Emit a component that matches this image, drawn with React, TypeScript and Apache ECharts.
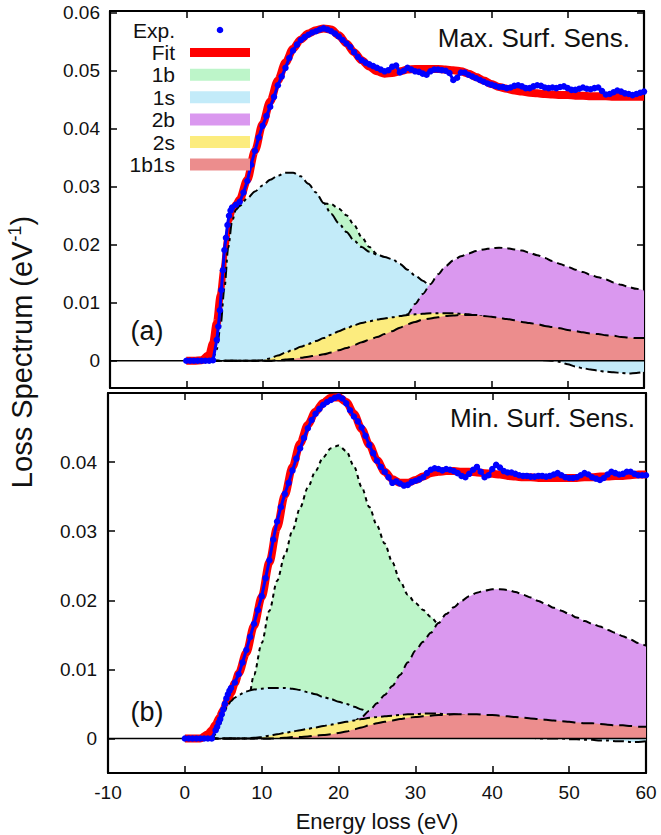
import { useEffect, useRef } from "react";
import * as echarts from "echarts";

const FONT = '"Liberation Sans", Arial, Helvetica, sans-serif';

// Energy-loss sample positions (eV) for the fitted curves and components
const COMP_X: number[] = [
  0, 1, 2, 3, 3.5, 4, 4.5, 5, 5.5, 6, 6.5,
  ...Array.from({ length: 54 }, (_, i) => 7 + i),
];
// Energy-loss sample positions (eV) for the measured spectra
const EXP_X: number[] = [
  ...Array.from({ length: 8 }, (_, i) => i * 0.5),
  ...Array.from({ length: 11 }, (_, i) => Math.round((4 + i * 0.2) * 10) / 10),
  ...Array.from({ length: 108 }, (_, i) => 6.5 + i * 0.5),
];

// ---------- (a) maximum surface sensitivity ----------
const EXP_A = [
  0, 0, 0, 0, 0, 0, 0, 0.0001,
  0.0036, 0.0059, 0.0087, 0.0122, 0.0156, 0.0191, 0.0212, 0.0234, 0.025, 0.0259, 0.0264,
  0.0269, 0.0274, 0.029, 0.031, 0.0338, 0.0362, 0.0385, 0.0405, 0.0422, 0.0438,
  0.0455, 0.0475, 0.049, 0.0505, 0.0522, 0.0535, 0.0545, 0.0553, 0.0558, 0.0562,
  0.0566, 0.0568, 0.0571, 0.0573, 0.0571, 0.0568, 0.0564, 0.0559, 0.0553, 0.0547,
  0.0541, 0.0532, 0.0524, 0.0518, 0.0514, 0.0511, 0.0508, 0.0505, 0.0502, 0.0499,
  0.0501, 0.0507, 0.0509, 0.0497, 0.05, 0.0505, 0.0502, 0.0499, 0.0498, 0.0495,
  0.0493, 0.0499, 0.0502, 0.0502, 0.0501, 0.05, 0.0496, 0.0484, 0.0488, 0.0497,
  0.0497, 0.0493, 0.049, 0.0487, 0.0484, 0.0481, 0.0478, 0.0476, 0.0474, 0.0472,
  0.0472, 0.047, 0.0471, 0.0474, 0.0475, 0.0473, 0.047, 0.047, 0.0473, 0.0475,
  0.0474, 0.0471, 0.047, 0.0471, 0.047, 0.0472, 0.0473, 0.047, 0.0467, 0.0467,
  0.0469, 0.0471, 0.0469, 0.0468, 0.047, 0.0471, 0.0465, 0.0459, 0.046, 0.0463,
  0.0466, 0.0464, 0.0461, 0.046, 0.0458, 0.046, 0.0462, 0.0464,
];
const FIT_A = [
  0, 0, 0.0001, 0.001, 0.003, 0.0065, 0.0112, 0.0158, 0.021, 0.025, 0.0268,
  0.0278, 0.0312, 0.0362, 0.0408, 0.0447, 0.0483, 0.0514, 0.0538, 0.0554, 0.0564,
  0.057, 0.0573, 0.0571, 0.0561, 0.0547, 0.0532, 0.0518, 0.0507, 0.0499, 0.0495,
  0.0496, 0.0499, 0.0502, 0.0503, 0.0503, 0.0503, 0.0503, 0.0502, 0.0501, 0.0499,
  0.0495, 0.0489, 0.0483, 0.0477, 0.0472, 0.0469, 0.0466, 0.0464, 0.0462, 0.0461,
  0.046, 0.0459, 0.0458, 0.0458, 0.0457, 0.0457, 0.0456, 0.0456, 0.0456, 0.0455,
  0.0455, 0.0455, 0.0455, 0.0455,
];
const B1_A = [
  0, 0, 0, 0, 0, 0, 0, 0, 0, 0, 0,
  0, 0.0005, 0.002, 0.0045, 0.0078, 0.0115, 0.0155, 0.0192, 0.0225, 0.0249,
  0.0264, 0.0271, 0.027, 0.0262, 0.0251, 0.0234, 0.0213, 0.0196, 0.0184, 0.0177,
  0.0172, 0.0164, 0.0154, 0.0144, 0.0134, 0.0124, 0.0113, 0.0102, 0.0092, 0.0083,
  0.0075, 0.0068, 0.0062, 0.0056, 0.0051, 0.0047, 0.0043, 0.004, 0.0037, 0.0035,
  0.0032, 0.003, 0.0028, 0.0027, 0.0025, 0.0024, 0.0023, 0.0022, 0.0021, 0.002,
  0.0019, 0.0018, 0.0017, 0.0017,
];
const S1_A = [
  0, 0, 0, 0, 0.0003, 0.002, 0.0062, 0.0125, 0.0195, 0.024, 0.026,
  0.0267, 0.028, 0.0292, 0.0302, 0.0312, 0.0319, 0.0324, 0.0324, 0.0318, 0.0305,
  0.029, 0.0272, 0.0253, 0.0237, 0.0222, 0.0207, 0.0196, 0.0188, 0.0183, 0.0179,
  0.0175, 0.0167, 0.0157, 0.0147, 0.0138, 0.0128, 0.0118, 0.0106, 0.0094, 0.0082,
  0.0071, 0.006, 0.005, 0.004, 0.0032, 0.0024, 0.0017, 0.0011, 0.0006, 0.0003,
  0.0001, 0, -0.0002, -0.0006, -0.001, -0.0013, -0.0015, -0.0017, -0.0019, -0.002,
  -0.0021, -0.0022, -0.0021, -0.0019,
];
const B2_A = [
  0, 0, 0, 0, 0, 0, 0, 0, 0, 0, 0,
  0, 0, 0, 0, 0, 0.0001, 0.0001, 0.0002, 0.0003, 0.0004,
  0.0005, 0.0007, 0.0009, 0.0011, 0.0014, 0.0018, 0.0022, 0.0027, 0.0033, 0.0041,
  0.0051, 0.0064, 0.008, 0.0098, 0.0115, 0.0132, 0.0149, 0.0163, 0.0173, 0.018,
  0.0185, 0.0189, 0.0192, 0.0194, 0.0195, 0.0194, 0.0192, 0.019, 0.0186, 0.0182,
  0.0177, 0.0172, 0.0167, 0.0162, 0.0157, 0.0153, 0.0148, 0.0144, 0.014, 0.0135,
  0.0131, 0.0127, 0.0124, 0.0121,
];
const S2_A = [
  0, 0, 0, 0, 0, 0, 0, 0, 0, 0, 0,
  0, 0, 0, 0.0001, 0.0004, 0.0009, 0.0014, 0.0019, 0.0024, 0.0029,
  0.0034, 0.0039, 0.0045, 0.0051, 0.0056, 0.0061, 0.0065, 0.0068, 0.0071, 0.0073,
  0.0075, 0.0077, 0.0079, 0.008, 0.0081, 0.0082, 0.0082, 0.0082, 0.0082, 0.0081,
  0.008, 0.0078, 0.0076, 0.0074, 0.0072, 0.0069, 0.0066, 0.0063, 0.006, 0.0057,
  0.0054, 0.0051, 0.0048, 0.0045, 0.0042, 0.004, 0.0037, 0.0035, 0.0033, 0.0031,
  0.0029, 0.0027, 0.0025, 0.0024,
];
const BS_A = [
  0, 0, 0, 0, 0, 0, 0, 0, 0, 0, 0,
  0, 0, 0, 0, 0, 0.0001, 0.0002, 0.0003, 0.0005, 0.0007,
  0.0009, 0.0011, 0.0014, 0.0018, 0.0022, 0.0027, 0.0032, 0.0036, 0.0041, 0.0046,
  0.0051, 0.0057, 0.0063, 0.0067, 0.0071, 0.0073, 0.0075, 0.0077, 0.0078, 0.0079,
  0.0079, 0.0079, 0.0077, 0.0076, 0.0074, 0.0072, 0.007, 0.0067, 0.0065, 0.0063,
  0.006, 0.0058, 0.0056, 0.0053, 0.0051, 0.0049, 0.0047, 0.0046, 0.0044, 0.0043,
  0.0041, 0.004, 0.0039, 0.0039,
];

// ---------- (b) minimum surface sensitivity ----------
const EXP_B = [
  0, 0, 0, 0, 0, 0, 0, 0,
  0.0012, 0.0017, 0.0023, 0.0028, 0.0035, 0.0042, 0.005, 0.0058, 0.0064, 0.0069, 0.0073,
  0.0081, 0.0093, 0.011, 0.0128, 0.0147, 0.0166, 0.0186, 0.0206, 0.0232, 0.0258,
  0.0288, 0.0314, 0.0335, 0.0354, 0.037, 0.0388, 0.0405, 0.042, 0.0435, 0.0449,
  0.0461, 0.047, 0.0477, 0.0483, 0.0487, 0.049, 0.0493, 0.0495, 0.0492, 0.0485,
  0.0475, 0.0466, 0.0459, 0.045, 0.0438, 0.0425, 0.0413, 0.0402, 0.0393, 0.0386,
  0.0378, 0.037, 0.0372, 0.0369, 0.0366, 0.0367, 0.0371, 0.0373, 0.0375, 0.0378,
  0.0384, 0.0389, 0.0391, 0.039, 0.0388, 0.039, 0.0389, 0.0387, 0.0384, 0.038,
  0.0378, 0.0383, 0.0389, 0.0393, 0.0386, 0.0378, 0.0381, 0.039, 0.0396, 0.0392,
  0.0387, 0.0385, 0.0385, 0.0383, 0.0381, 0.038, 0.038, 0.0379, 0.0379, 0.038,
  0.038, 0.0379, 0.038, 0.0382, 0.0384, 0.0381, 0.0378, 0.0377, 0.0377, 0.0378,
  0.0381, 0.0384, 0.0382, 0.0378, 0.0376, 0.0374, 0.0377, 0.0382, 0.0386, 0.0384,
  0.0382, 0.0383, 0.0386, 0.0386, 0.0383, 0.0381, 0.0381, 0.0381,
];
const FIT_B = [
  0, 0, 0, 0.0006, 0.0012, 0.002, 0.003, 0.0041, 0.0053, 0.0066, 0.008,
  0.0094, 0.0124, 0.0163, 0.0205, 0.0255, 0.0305, 0.0352, 0.0393, 0.0427, 0.0454,
  0.0473, 0.0486, 0.0493, 0.0494, 0.0487, 0.047, 0.0448, 0.0425, 0.0403, 0.0386,
  0.0375, 0.037, 0.037, 0.0374, 0.0379, 0.0384, 0.0386, 0.0387, 0.0387, 0.0386,
  0.0386, 0.0385, 0.0384, 0.0383, 0.0382, 0.038, 0.0379, 0.0378, 0.0378, 0.0377,
  0.0377, 0.0377, 0.0377, 0.0377, 0.0377, 0.0378, 0.0378, 0.0379, 0.0379, 0.038,
  0.038, 0.0381, 0.0382, 0.0382,
];
const B1_B = [
  0, 0, 0, 0, 0, 0, 0, 0, 0, 0, 0,
  0, 0.0035, 0.0092, 0.0138, 0.0185, 0.0228, 0.0265, 0.0301, 0.0334, 0.0363,
  0.0387, 0.0407, 0.042, 0.0424, 0.0416, 0.0394, 0.0364, 0.0335, 0.0308, 0.0282,
  0.0255, 0.0228, 0.0208, 0.0196, 0.0186, 0.0176, 0.0165, 0.0153, 0.0141, 0.013,
  0.012, 0.011, 0.0101, 0.0092, 0.0085, 0.0078, 0.0072, 0.0066, 0.0061, 0.0056,
  0.0052, 0.0048, 0.0045, 0.0042, 0.0039, 0.0037, 0.0035, 0.0033, 0.0031, 0.003,
  0.0028, 0.0027, 0.0026, 0.0025,
];
const S1_B = [
  0, 0, 0, 0, 0, 0.0006, 0.0018, 0.0034, 0.0046, 0.0054, 0.0059,
  0.0063, 0.0068, 0.0071, 0.0072, 0.0073, 0.0073, 0.0073, 0.0072, 0.007, 0.0067,
  0.0064, 0.006, 0.0057, 0.0053, 0.005, 0.0046, 0.0042, 0.0038, 0.0034, 0.003,
  0.0027, 0.0024, 0.0021, 0.0018, 0.0016, 0.0013, 0.0011, 0.0009, 0.0008, 0.0006,
  0.0005, 0.0004, 0.0003, 0.0003, 0.0002, 0.0002, 0.0001, 0.0001, 0.0001, 0,
  0, 0, 0, -0.0001, -0.0001, -0.0002, -0.0002, -0.0003, -0.0003, -0.0004,
  -0.0004, -0.0005, -0.0005, -0.0004,
];
const B2_B = [
  0, 0, 0, 0, 0, 0, 0, 0, 0, 0, 0,
  0, 0, 0, 0, 0, 0.0001, 0.0002, 0.0003, 0.0004, 0.0006,
  0.0008, 0.001, 0.0012, 0.0015, 0.0019, 0.0025, 0.0031, 0.004, 0.0051, 0.0063,
  0.0076, 0.0092, 0.011, 0.0127, 0.014, 0.0153, 0.0167, 0.018, 0.019, 0.0199,
  0.0206, 0.0211, 0.0214, 0.0216, 0.0216, 0.0215, 0.0212, 0.0208, 0.0204, 0.0199,
  0.0194, 0.0189, 0.0185, 0.018, 0.0175, 0.017, 0.0166, 0.0162, 0.0157, 0.0153,
  0.0148, 0.0143, 0.0138, 0.0134,
];
const S2_B = [
  0, 0, 0, 0, 0, 0, 0, 0, 0, 0, 0,
  0, 0, 0.0001, 0.0002, 0.0004, 0.0006, 0.0008, 0.001, 0.0012, 0.0014,
  0.0016, 0.0018, 0.002, 0.0022, 0.0024, 0.0026, 0.0028, 0.003, 0.0031, 0.0032,
  0.0033, 0.0034, 0.0035, 0.0035, 0.0036, 0.0036, 0.0036, 0.0035, 0.0035, 0.0034,
  0.0033, 0.0032, 0.0031, 0.003, 0.0028, 0.0027, 0.0025, 0.0024, 0.0022, 0.0021,
  0.0019, 0.0018, 0.0017, 0.0016, 0.0014, 0.0013, 0.0012, 0.0011, 0.001, 0.001,
  0.0009, 0.0008, 0.0008, 0.0007,
];
const BS_B = [
  0, 0, 0, 0, 0, 0, 0, 0, 0, 0, 0,
  0, 0, 0, 0, 0, 0, 0.0001, 0.0002, 0.0002, 0.0003,
  0.0004, 0.0005, 0.0006, 0.0008, 0.001, 0.0013, 0.0016, 0.0019, 0.0022, 0.0024,
  0.0026, 0.0028, 0.003, 0.0031, 0.0032, 0.0033, 0.0034, 0.0034, 0.0035, 0.0035,
  0.0035, 0.0035, 0.0034, 0.0034, 0.0033, 0.0032, 0.0031, 0.003, 0.0029, 0.0028,
  0.0027, 0.0026, 0.0025, 0.0024, 0.0023, 0.0022, 0.0022, 0.0021, 0.002, 0.0019,
  0.0019, 0.0018, 0.0017, 0.0017,
];

const Y_TICKS_A = [0, 0.01, 0.02, 0.03, 0.04, 0.05, 0.06];
const Y_TICKS_B = [0, 0.01, 0.02, 0.03, 0.04];

const LEGEND_NAMES = ["Exp.", "Fit", "1b", "1s", "2b", "2s", "1b1s"];
const LEGEND_COLORS = ["#0000ff", "#ff0000", "#bdf5c9", "#c3ebf9", "#da98ef", "#fcec7e", "#ec8d8d"];
const COMPONENT_DASH = [
  [4, 4],
  [11, 4, 3, 4],
  [8, 5],
  [11, 4, 3, 4],
  [13, 6],
];

const pairs = (xs: number[], ys: number[]) => xs.map((x, i) => [x, ys[i]]);

function panelSeries(
  idx: number,
  exp: number[],
  fit: number[],
  comps: number[][]
): any[] {
  const axes = { xAxisIndex: idx * 2, yAxisIndex: idx * 2 };
  const list: any[] = [
    {
      type: "line",
      name: "Fit",
      ...axes,
      data: pairs(COMP_X, fit),
      smooth: 0.3,
      smoothMonotone: "x",
      symbol: "none",
      lineStyle: { color: LEGEND_COLORS[1], width: 8 },
      z: 3,
    },
  ];
  comps.forEach((vals, k) => {
    list.push({
      type: "line",
      name: LEGEND_NAMES[k + 2],
      ...axes,
      data: pairs(COMP_X, vals),
      smooth: 0.3,
      smoothMonotone: "x",
      symbol: "none",
      lineStyle: { color: "#000", width: 2, type: COMPONENT_DASH[k] },
      areaStyle: { color: LEGEND_COLORS[k + 2], opacity: 1, origin: "auto" },
      z: 5 + k,
    });
  });
  list.push({
    type: "line",
    name: "zero",
    ...axes,
    data: [
      [-10, 0],
      [60, 0],
    ],
    symbol: "none",
    lineStyle: { color: "#000", width: 1.6 },
    silent: true,
    z: 12,
  });
  // measured points: dots joined by a thin trace of the same colour
  list.push({
    type: "line",
    name: "Exp.",
    ...axes,
    data: pairs(EXP_X, exp),
    symbol: "circle",
    symbolSize: 6.5,
    showSymbol: true,
    showAllSymbol: true,
    lineStyle: { color: LEGEND_COLORS[0], width: 3 },
    itemStyle: { color: LEGEND_COLORS[0] },
    z: 14,
  });
  return list;
}

const frameLine = { show: true, onZero: false, lineStyle: { color: "#000", width: 2.2 } };
const innerTick = { show: true, inside: true, length: 7, lineStyle: { color: "#000", width: 1.5 } };

function xAxisDef(gridIndex: number, position: string, showLabel: boolean) {
  return {
    type: "value",
    gridIndex,
    position,
    min: -10,
    max: 60,
    interval: 10,
    axisLine: frameLine,
    axisTick: innerTick,
    axisLabel: { show: showLabel, color: "#111", fontSize: 19, fontFamily: FONT, margin: 10 },
    splitLine: { show: false },
  };
}

function yAxisDef(
  gridIndex: number,
  position: string,
  min: number,
  max: number,
  ticks: number[],
  showLabel: boolean,
  margin: number
) {
  return {
    type: "value",
    gridIndex,
    position,
    min,
    max,
    axisLine: frameLine,
    axisTick: { ...innerTick, customValues: ticks },
    axisLabel: {
      show: showLabel,
      customValues: ticks,
      formatter: (v: number) => (Math.abs(v) < 1e-9 ? "0" : v.toFixed(2)),
      color: "#111",
      fontSize: 19,
      fontFamily: FONT,
      margin,
    },
    splitLine: { show: false },
  };
}

function legendGraphics(): any[] {
  const out: any[] = [];
  LEGEND_NAMES.forEach((name, i) => {
    const yc = 30 + i * 22.4;
    out.push({
      type: "text",
      x: 175,
      y: yc,
      z: 100,
      style: {
        text: name,
        align: "right",
        verticalAlign: "middle",
        font: `21px ${FONT}`,
        fill: "#111",
      },
    });
    if (i === 0) {
      out.push({
        type: "circle",
        z: 100,
        shape: { cx: 220, cy: yc, r: 3.3 },
        style: { fill: LEGEND_COLORS[0] },
      });
    } else if (i === 1) {
      out.push({
        type: "rect",
        z: 100,
        shape: { x: 190, y: yc - 4.5, width: 60, height: 9 },
        style: { fill: LEGEND_COLORS[1] },
      });
    } else {
      out.push({
        type: "rect",
        z: 100,
        shape: { x: 190, y: yc - 6, width: 60, height: 12 },
        style: { fill: LEGEND_COLORS[i] },
      });
    }
  });
  return out;
}

export default function App() {
  const ref = useRef<HTMLDivElement>(null);

  useEffect(() => {
    document.body.style.margin = "0";
    if (!ref.current) return;
    const chart = echarts.init(ref.current, null, { renderer: "svg" });

    const option: any = {
      animation: false,
      backgroundColor: "#fff",
      grid: [
        { left: 110, top: 11, width: 534, height: 377 },
        { left: 108, top: 393, width: 538, height: 380 },
      ],
      xAxis: [
        xAxisDef(0, "bottom", false),
        xAxisDef(0, "top", false),
        xAxisDef(1, "bottom", true),
        xAxisDef(1, "top", false),
      ],
      yAxis: [
        yAxisDef(0, "left", -0.0047, 0.0603, Y_TICKS_A, true, 10),
        yAxisDef(0, "right", -0.0047, 0.0603, Y_TICKS_A, false, 10),
        yAxisDef(1, "left", -0.005, 0.05, Y_TICKS_B, true, 11),
        yAxisDef(1, "right", -0.005, 0.05, Y_TICKS_B, false, 11),
      ],
      series: [
        ...panelSeries(0, EXP_A, FIT_A, [B1_A, S1_A, B2_A, S2_A, BS_A]),
        ...panelSeries(1, EXP_B, FIT_B, [B1_B, S1_B, B2_B, S2_B, BS_B]),
      ],
      graphic: [
        ...legendGraphics(),
        {
          type: "text",
          x: 22,
          y: 352,
          rotation: Math.PI / 2,
          z: 100,
          style: {
            text: "{t|Loss Spectrum (eV}{s|-1}{t|)}",
            align: "center",
            verticalAlign: "middle",
            fill: "#111",
            rich: {
              t: { font: `29px ${FONT}`, fill: "#111", lineHeight: 32 },
              s: { font: `18px ${FONT}`, fill: "#111", lineHeight: 18, verticalAlign: "top" },
            },
          },
        },
        {
          type: "text",
          x: 377,
          y: 821,
          z: 100,
          style: {
            text: "Energy loss (eV)",
            align: "center",
            verticalAlign: "middle",
            font: `22px ${FONT}`,
            fill: "#111",
          },
        },
        {
          type: "text",
          x: 630,
          y: 38,
          z: 100,
          style: {
            text: "Max. Surf. Sens.",
            align: "right",
            verticalAlign: "middle",
            font: `26px ${FONT}`,
            fill: "#111",
          },
        },
        {
          type: "text",
          x: 635,
          y: 418,
          z: 100,
          style: {
            text: "Min. Surf. Sens.",
            align: "right",
            verticalAlign: "middle",
            font: `26px ${FONT}`,
            fill: "#111",
          },
        },
        {
          type: "text",
          x: 147,
          y: 331,
          z: 100,
          style: {
            text: "(a)",
            align: "center",
            verticalAlign: "middle",
            font: `27px ${FONT}`,
            fill: "#111",
          },
        },
        {
          type: "text",
          x: 147,
          y: 712,
          z: 100,
          style: {
            text: "(b)",
            align: "center",
            verticalAlign: "middle",
            font: `27px ${FONT}`,
            fill: "#111",
          },
        },
      ],
    };

    chart.setOption(option);
    return () => chart.dispose();
  }, []);

  return <div ref={ref} style={{ width: 661, height: 835 }} />;
}
